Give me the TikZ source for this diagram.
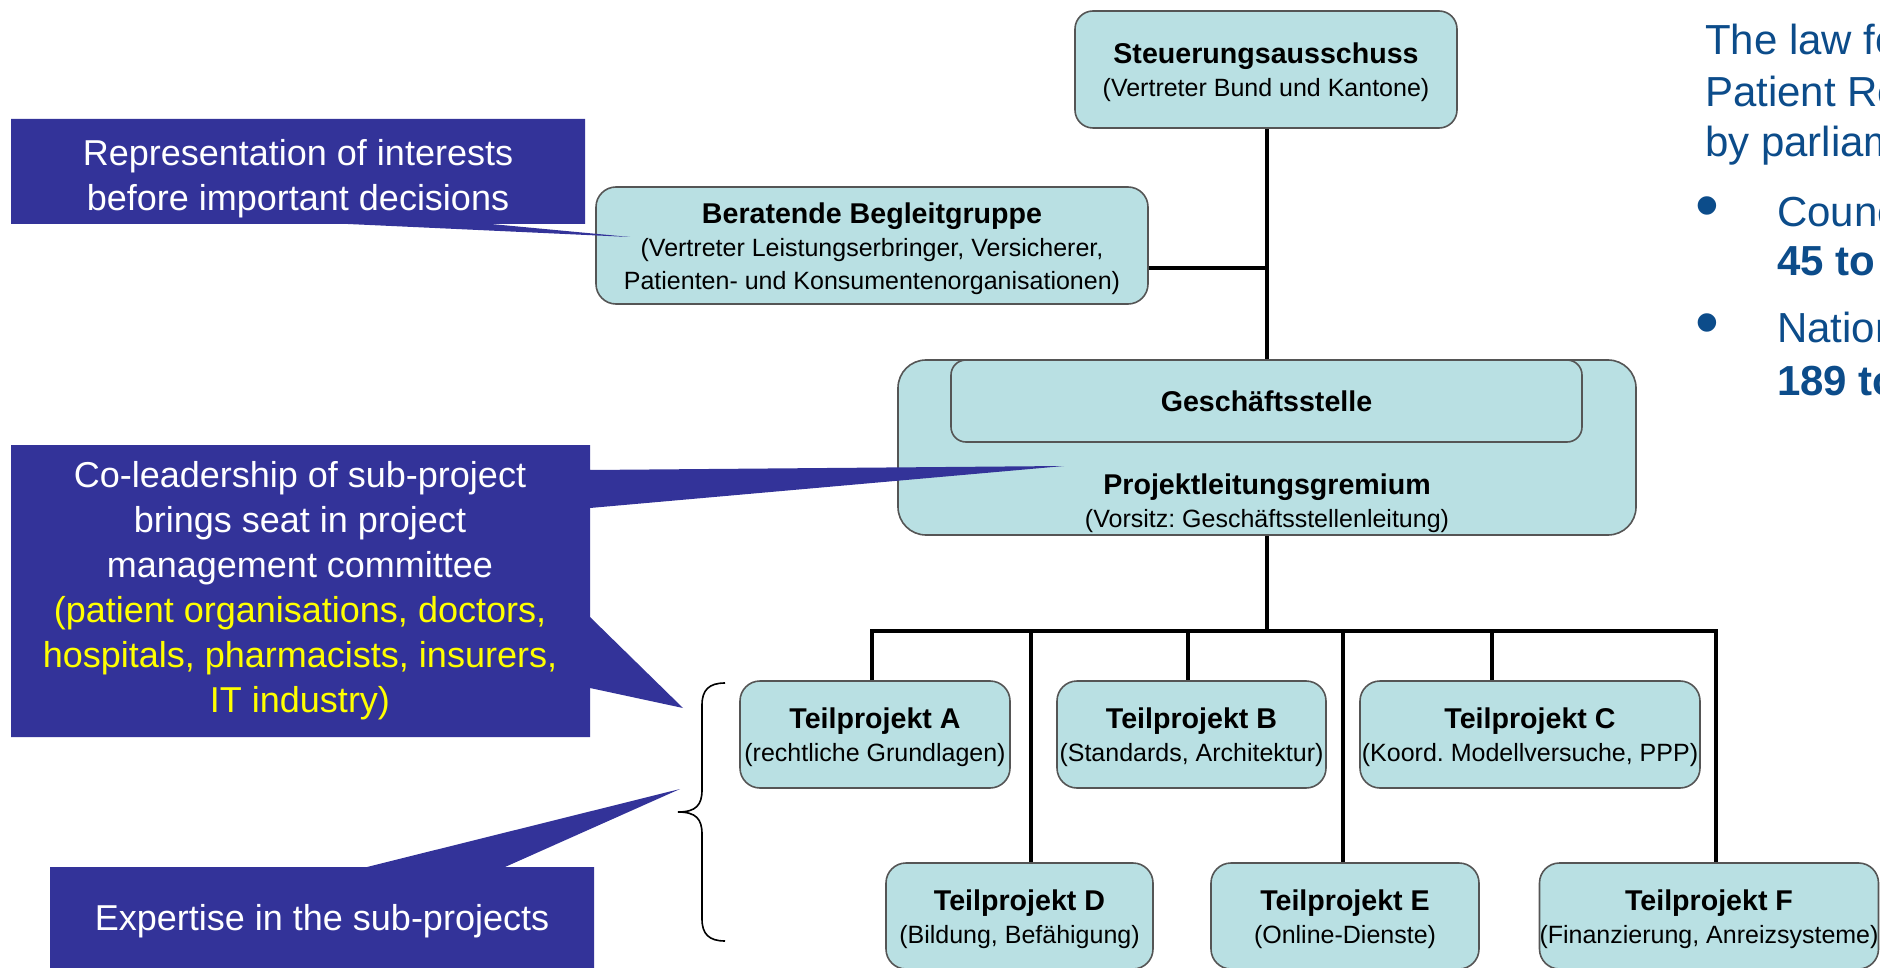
\documentclass[tikz,border=0pt]{standalone}
\usepackage{fontspec}
\setmainfont{Liberation Sans}
\frenchspacing
\definecolor{boxfill}{RGB}{185,224,227}
\definecolor{boxline}{RGB}{85,85,85}
\definecolor{callblue}{RGB}{51,51,153}
\definecolor{lawblue}{RGB}{12,76,138}
\definecolor{callyellow}{RGB}{255,255,0}
\newcommand{\ttlf}{\bfseries\fontsize{14.3}{16.5}\selectfont}
\newcommand{\subf}{\fontsize{12.5}{16.5}\selectfont}
\newcommand{\ttl}[1]{{\ttlf\rule{0pt}{13.4pt}#1}}
\tikzset{
  orgbox/.style={draw=boxline, fill=boxfill, line width=0.8pt, rounded corners=10pt,
    inner sep=0pt, align=center, font=\subf},
  conn/.style={line width=1.9pt, black, line join=miter},
  callout/.style={fill=callblue},
  calltext/.style={text=white, align=center, font=\fontsize{18}{22.5}\selectfont},
  lawtext/.style={text=lawblue, anchor=base west, font=\fontsize{21}{25}\selectfont},
  lawbullet/.style={text=lawblue, font=\fontsize{34}{34}\selectfont, inner sep=0pt},
  bracestyle/.style={line width=0.8pt, black}
}
\begin{document}
\begin{tikzpicture}[x=0.5pt,y=-0.5pt]
\useasboundingbox (0,0) rectangle (1880,968);
\clip (0,0) rectangle (1880,968);

% boxes
\node[orgbox, rounded corners=9pt, minimum width=191pt, minimum height=58.5pt] (steer) at (1266,69.5)
  {\ttl{Steuerungsausschuss}\\(Vertreter Bund und Kantone)};
\node[orgbox, minimum width=276pt, minimum height=58.5pt] (ber) at (872,245.5)
  {\ttl{Beratende Begleitgruppe}\\(Vertreter Leistungserbringer, Versicherer,\\Patienten- und Konsumentenorganisationen)};
\node[orgbox, rounded corners=14pt, minimum width=369pt, minimum height=87.5pt] (outer) at (1267,447.5) {};
\node[orgbox, rounded corners=7.5pt, minimum width=315.5pt, minimum height=41pt] (inner) at (1266.5,401)
  {{\ttlf Geschäftsstelle}};
\node[align=center, font=\subf, inner sep=0pt] (pltext) at (1267,503)
  {{\ttlf Projektleitungsgremium}\\(Vorsitz: Geschäftsstellenleitung)};

\node[orgbox, minimum width=135pt, minimum height=53.5pt] (tA) at (875,734.5)
  {\ttl{Teilprojekt A}\\(rechtliche Grundlagen)};
\node[orgbox, minimum width=134.5pt, minimum height=53.5pt] (tB) at (1191.5,734.5)
  {\ttl{Teilprojekt B}\\(Standards, Architektur)};
\node[orgbox, minimum width=170pt, minimum height=53.5pt] (tC) at (1530,734.5)
  {\ttl{Teilprojekt C}\\(Koord. Modellversuche, PPP)};
\node[orgbox, minimum width=133.5pt, minimum height=53pt] (tD) at (1019.5,916)
  {\ttl{Teilprojekt D}\\(Bildung, Befähigung)};
\node[orgbox, minimum width=134pt, minimum height=53pt] (tE) at (1345,916)
  {\ttl{Teilprojekt E}\\(Online-Dienste)};
\node[orgbox, minimum width=169pt, minimum height=53pt] (tF) at (1709,916)
  {\ttl{Teilprojekt F}\\(Finanzierung, Anreizsysteme)};

% connectors
\coordinate (jB) at (1267,268);
\coordinate (bar) at (1267,631);
\coordinate (dA) at (872,631);
\coordinate (dB) at (1188,631);
\coordinate (dC) at (1492,631);
\coordinate (dD) at (1031,631);
\coordinate (dE) at (1343,631);
\coordinate (dF) at (1716,631);
\draw[conn] (steer.south -| jB) -- (outer.north -| jB);
\draw[conn] (ber.east |- jB) -- (jB);
\draw[conn] (outer.south -| bar) -- (bar);
\draw[conn] (dA |- tA.north) -- (dA) -- (dF) -- (dF |- tF.north);
\draw[conn] (dB) -- (dB |- tB.north);
\draw[conn] (dC) -- (dC |- tC.north);
\draw[conn] (dD) -- (dD |- tD.north);
\draw[conn] (dE) -- (dE |- tE.north);

% brace
\coordinate (brTop) at (725,683);
\coordinate (brTip) at (678,812);
\coordinate (brBot) at (725,941);
\draw[bracestyle] (brTop) .. controls (709,683) and (702,690) .. (702,705) -- (702,790)
  .. controls (702,805) and (696,812) .. (brTip)
  .. controls (696,812) and (702,819) .. (702,834) -- (702,919)
  .. controls (702,934) and (709,941) .. (brBot);

% callouts
\fill[callout] (11,119) -- (585,119) -- (585,224) -- (491,224) -- (630,237) -- (348,224) -- (11,224) -- cycle;
\node[calltext] (c1) at (298,179) {Representation of interests\\before important decisions};

\fill[callout] (11,445) -- (590,445) -- (590,470) -- (1064,466) -- (590,508) -- (590,617)
  -- (683,708) -- (590,688) -- (590,737) -- (11,737) -- cycle;
\node[calltext] (c2) at (300,591) {Co-leadership of sub-project\\brings seat in project\\management committee\\
  \textcolor{callyellow}{(patient organisations, doctors,}\\
  \textcolor{callyellow}{hospitals, pharmacists, insurers,}\\
  \textcolor{callyellow}{IT industry)}};

\fill[callout] (50,867) -- (367,867) -- (680,789) -- (505,867) -- (594,867) -- (594,980) -- (50,980) -- cycle;
\node[calltext] (c3) at (322,921) {Expertise in the sub-projects};

% right text
\node[lawtext] (law1) at (1698,55) {The law fo};
\node[lawtext] (law2) at (1698,107) {Patient Re};
\node[lawtext] (law3) at (1698,157) {by parliam};
\node[lawbullet] (bul1) at (1707,213) {•};
\node[lawtext] (law4) at (1770,227) {Counc};
\node[lawtext, font=\bfseries\fontsize{21}{25}\selectfont] (law5) at (1770,276) {45 to};
\node[lawbullet] (bul2) at (1707,330) {•};
\node[lawtext] (law6) at (1770,343) {Nation};
\node[lawtext, font=\bfseries\fontsize{21}{25}\selectfont] (law7) at (1770,395) {189 to};
\end{tikzpicture}
\end{document}
